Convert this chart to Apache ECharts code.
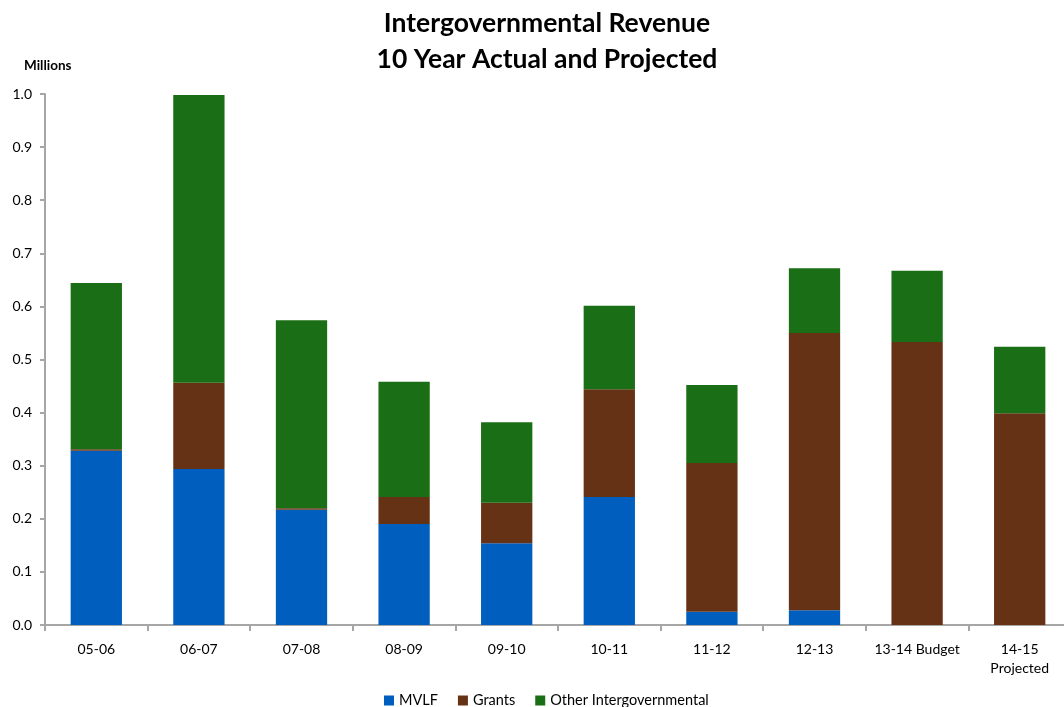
<!DOCTYPE html>
<html>
<head>
<meta charset="utf-8">
<script src="https://cdn.jsdelivr.net/npm/echarts@6/dist/echarts.min.js"></script>
<style>
  html, body { margin: 0; padding: 0; background: #fff; }
  #chart { width: 1064px; height: 707px; }
</style>
</head>
<body>
<div id="chart"></div>
<script>
// Fiscal years shown on the category axis
const categories = ['05-06', '06-07', '07-08', '08-09', '09-10', '10-11', '11-12', '12-13', '13-14 Budget', '14-15\nProjected'];

// Revenue components, in millions
const mvlf  = [0.328, 0.294, 0.217, 0.190, 0.154, 0.241, 0.025, 0.028, 0.000, 0.000];
const grants = [0.003, 0.162, 0.003, 0.051, 0.076, 0.203, 0.280, 0.522, 0.533, 0.399];
const other = [0.313, 0.542, 0.354, 0.217, 0.152, 0.157, 0.147, 0.122, 0.134, 0.125];

const seriesNames = ['MVLF', 'Grants', 'Other Intergovernmental'];
const seriesColors = ['#005EBF', '#663215', '#1A6E15'];

const FONT = 'Lato, "Open Sans", "Liberation Sans", sans-serif';

const chart = echarts.init(document.getElementById('chart'));

chart.setOption({
  animation: false,
  backgroundColor: '#ffffff',
  graphic: [{
    type: 'text',
    x: 547,
    y: 5,
    style: {
      text: 'Intergovernmental Revenue\n10 Year Actual and Projected',
      align: 'center',
      fontFamily: FONT, fontWeight: 'bold', fontSize: 26.5, lineHeight: 36, fill: '#000'
    }
  }, {
    type: 'text',
    left: 24,
    top: 59,
    style: { text: 'Millions', fontFamily: FONT, fontWeight: 'bold', fontSize: 13.5, fill: '#000' }
  }],
  legend: {
    bottom: -6,
    left: 379,
    itemWidth: 10,
    itemHeight: 10,
    itemGap: 20,
    icon: 'rect',
    textStyle: { fontFamily: FONT, fontSize: 14.5, color: '#000' },
    data: seriesNames
  },
  grid: { left: 45, right: -7, top: 94, bottom: 82, containLabel: false, outerBoundsMode: 'none' },
  xAxis: {
    type: 'category',
    data: categories,
    axisLine: { lineStyle: { color: '#a6a6a6', width: 2 } },
    axisTick: { show: true, length: 6, lineStyle: { color: '#a6a6a6', width: 2 } },
    axisLabel: { interval: 0, margin: 15, fontFamily: FONT, fontSize: 14, color: '#000', lineHeight: 19, hideOverlap: false }
  },
  yAxis: {
    type: 'value',
    min: 0,
    max: 1,
    interval: 0.1,
    splitLine: { show: false },
    axisLine: { show: true, lineStyle: { color: '#a6a6a6', width: 2 } },
    axisTick: { show: true, length: 5, lineStyle: { color: '#a6a6a6', width: 2 } },
    axisLabel: { margin: 13, fontFamily: FONT, fontSize: 14, color: '#000', formatter: v => v.toFixed(1) }
  },
  series: [mvlf, grants, other].map((d, i) => ({
    name: seriesNames[i],
    type: 'bar',
    stack: 'total',
    barWidth: '50%',
    itemStyle: { color: seriesColors[i] },
    data: d
  }))
});
</script>
</body>
</html>
